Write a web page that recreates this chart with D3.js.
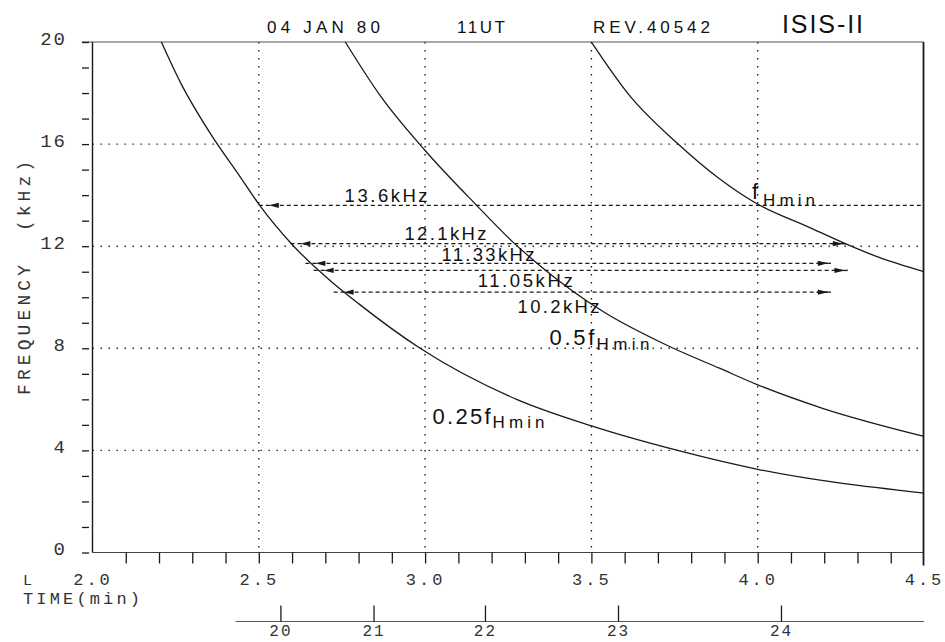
<!DOCTYPE html>
<html><head><meta charset="utf-8">
<script src="https://cdn.jsdelivr.net/npm/d3@7"></script>
<style>
html,body{margin:0;padding:0;background:#fff;}
svg{display:block;}
.mono{font-family:"Liberation Mono","DejaVu Sans Mono",monospace;fill:#333;}
.sans{font-family:"Liberation Sans",Arial,sans-serif;fill:#111;}
</style>
</head><body>
<svg id="chart" width="945" height="642"></svg>
<script>
// Cutoff curves: time (min) and frequency (kHz)
const fHminTime = [3.50, 3.615, 3.755, 3.885, 3.99, 4.155, 4.265, 4.365, 4.5];
const fHminFreq = [20.0, 17.9, 16.07, 14.64, 13.72, 12.74, 12.09, 11.56, 11.0];
const halfTime = [2.76, 2.865, 3.0, 3.155, 3.265, 3.36, 3.535, 3.735, 3.885, 4.0, 4.195, 4.5];
const halfFreq = [20.0, 17.9, 15.75, 13.6, 12.15, 11.08, 9.44, 8.07, 7.22, 6.57, 5.65, 4.55];
const quarterTime = [2.207, 2.265, 2.36, 2.445, 2.5, 2.605, 2.715, 2.80, 2.985, 3.275, 3.50, 3.765, 4.0, 4.5];
const quarterFreq = [20.0, 18.4, 16.3, 14.7, 13.65, 12.0, 10.65, 9.75, 8.0, 6.0, 4.96, 3.98, 3.26, 2.33];

// Constant-frequency emissions: frequency, start and end time
const emissionFreq = [13.6, 12.1, 11.33, 11.05, 10.2];
const emissionStart = [2.5, 2.595, 2.64, 2.665, 2.725];
const emissionEnd = [4.5, 4.265, 4.22, 4.27, 4.22];
const emissionLabels = ["13.6kHz", "12.1kHz", "11.33kHz", "11.05kHz", "10.2kHz"];

// Axis ticks
const freqTicks = [0, 4, 8, 12, 16, 20];
const timeTicks = [2.0, 2.5, 3.0, 3.5, 4.0, 4.5];
const lValues = [20, 21, 22, 23, 24];
const lTimes = [2.565, 2.845, 3.18, 3.58, 4.07];

const headerTexts = ["04 JAN 80", "11UT", "REV.40542", "ISIS-II"];

const svg = d3.select("#chart");
const x = d3.scaleLinear().domain([2.0, 4.5]).range([92.5, 924]);
const y = d3.scaleLinear().domain([0, 20]).range([552.5, 42]);
const ink = "#1a1a1a";

// ---- dotted grid
const dotted = sel => sel.attr("stroke", ink).attr("stroke-width", 1.4)
  .attr("stroke-dasharray", "1.4,6.6").attr("fill", "none");
svg.append("g").selectAll("line")
  .data(freqTicks.filter(d => d > 0 && d < 20)).join("line")
  .attr("x1", x(2.0)).attr("x2", x(4.5))
  .attr("y1", d => y(d)).attr("y2", d => y(d)).call(dotted);
svg.append("g").selectAll("line")
  .data(timeTicks.filter(d => d > 2.0 && d < 4.5)).join("line")
  .attr("x1", d => x(d)).attr("x2", d => x(d))
  .attr("y1", y(20)).attr("y2", y(0)).call(dotted);

// ---- frame
const frame = svg.append("g").attr("stroke", ink).attr("fill", "none");
frame.append("line").attr("x1", 82).attr("x2", x(4.5) - 0.5).attr("y1", y(20)).attr("y2", y(20))
  .attr("stroke", "#555").attr("stroke-width", 1.2);
frame.append("line").attr("x1", x(2.0)).attr("x2", x(2.0)).attr("y1", y(20)).attr("y2", y(0))
  .attr("stroke-width", 1.4);
frame.append("line").attr("x1", x(2.0)).attr("x2", x(4.5)).attr("y1", y(0)).attr("y2", y(0))
  .attr("stroke", "#444").attr("stroke-width", 1.2);
frame.append("line").attr("x1", x(4.5) - 0.5).attr("x2", x(4.5) - 0.5).attr("y1", y(20)).attr("y2", y(0) + 13)
  .attr("stroke-width", 1.8);

// ---- y axis: minor ticks every kHz, labels every 4
const yTicks = svg.append("g").attr("transform", "translate(89,0)")
  .call(d3.axisLeft(y).tickValues(d3.range(0, 21)).tickSize(7).tickFormat(""));
yTicks.select(".domain").remove();
yTicks.selectAll("line").attr("stroke", ink).attr("stroke-width", 1.3);

const yLab = svg.append("g").attr("transform", "translate(89,0)")
  .call(d3.axisLeft(y).tickValues(freqTicks).tickSize(0).tickPadding(22).tickFormat(d3.format("d")));
yLab.select(".domain").remove();
yLab.selectAll("text").attr("class", "mono").attr("font-size", 19)
  .attr("letter-spacing", 2).attr("dy", "0.12em").attr("fill", null);

// ---- x axis: ticks every 0.1 min, labels every 0.5
const xTicks = svg.append("g").attr("transform", `translate(0,${y(0)})`)
  .call(d3.axisBottom(x).tickValues(d3.range(21, 45).map(d => d / 10)).tickSize(11).tickFormat(""));
xTicks.select(".domain").remove();
xTicks.selectAll("line").attr("stroke", ink).attr("stroke-width", 1.3);

const xLab = svg.append("g").attr("transform", `translate(0,${y(0)})`)
  .call(d3.axisBottom(x).tickValues(timeTicks).tickSize(0).tickPadding(31).tickFormat(d3.format(".1f")));
xLab.select(".domain").remove();
xLab.selectAll("text").attr("class", "mono").attr("font-size", 17)
  .attr("letter-spacing", 3).attr("dy", "0.1em").attr("fill", null);

svg.append("text").attr("class", "mono").attr("x", 23).attr("y", 585)
  .attr("font-size", 15).attr("fill", "#777").text("L");
svg.append("text").attr("class", "mono").attr("x", 23).attr("y", 604)
  .attr("font-size", 17).attr("textLength", 117).attr("lengthAdjust", "spacing").text("TIME(min)");

// ---- secondary scale under the time axis
const lScale = d3.scaleLinear().domain(lValues).range(lTimes.map(t => x(t)));
svg.append("line").attr("x1", x(2.43)).attr("x2", x(4.5)).attr("y1", 621.5).attr("y2", 621.5)
  .attr("stroke", "#555").attr("stroke-width", 1.2);
const lAxis = svg.append("g").attr("transform", "translate(0,621.5)")
  .call(d3.axisBottom(lScale).tickValues(lValues).tickSizeInner(-16).tickSizeOuter(0)
    .tickPadding(3).tickFormat(d3.format("d")));
lAxis.select(".domain").remove();
lAxis.selectAll("line").attr("stroke", ink).attr("stroke-width", 1.3);
lAxis.selectAll("text").attr("class", "mono").attr("font-size", 16)
  .attr("letter-spacing", 2).attr("fill", null);

// ---- y axis title
svg.append("text").attr("class", "mono").attr("transform", "translate(30,395) rotate(-90)")
  .attr("font-size", 18).attr("textLength", 130).attr("lengthAdjust", "spacing").text("FREQUENCY");
svg.append("text").attr("class", "mono").attr("transform", "translate(30,231) rotate(-90)")
  .attr("font-size", 18).attr("textLength", 70).attr("lengthAdjust", "spacing").text("(kHz)");

// ---- header
const headerLayout = [
  {x: 267, len: 113, size: 17}, {x: 457, len: 48, size: 17},
  {x: 593, len: 117, size: 17}, {x: 782, len: 81, size: 25}
];
headerTexts.forEach((t, i) => {
  svg.append("text").attr("class", "sans").attr("x", headerLayout[i].x).attr("y", 33)
    .attr("font-size", headerLayout[i].size).attr("textLength", headerLayout[i].len)
    .attr("lengthAdjust", "spacing").text(t);
});

// ---- cutoff curves
const line = d3.line().x(d => x(d[0])).y(d => y(d[1])).curve(d3.curveMonotoneX);
[[fHminTime, fHminFreq], [halfTime, halfFreq], [quarterTime, quarterFreq]].forEach(([t, f]) => {
  svg.append("path").datum(d3.zip(t, f)).attr("d", line)
    .attr("fill", "none").attr("stroke", ink).attr("stroke-width", 1.3);
});

// ---- emission lines with arrowheads
const em = svg.append("g");
emissionFreq.forEach((f, i) => {
  const xs = x(emissionStart[i]), xe = x(emissionEnd[i]), yy = y(f);
  em.append("line").attr("x1", xs).attr("x2", i === 0 ? xe - 1 : xe).attr("y1", yy).attr("y2", yy)
    .attr("stroke", ink).attr("stroke-width", 1.3).attr("stroke-dasharray", "4,3");
  em.append("path").attr("d", `M${xs + 10},${yy}L${xs + 20},${yy - 2.6}L${xs + 20},${yy + 2.6}Z`)
    .attr("fill", ink);
  if (i > 0) {
    em.append("path").attr("d", `M${xe - 3},${yy}L${xe - 13},${yy - 2.6}L${xe - 13},${yy + 2.6}Z`)
      .attr("fill", ink);
    em.append("line").attr("x1", xe - 14).attr("x2", xe).attr("y1", yy).attr("y2", yy)
      .attr("stroke", ink).attr("stroke-width", 1.3);
  }
});

// emission labels, anchored in (time, kHz) with their rendered widths
const emissionLabelLayout = [
  {t: 2.758, f: 13.73, len: 83}, {t: 2.938, f: 12.24, len: 82},
  {t: 3.049, f: 11.43, len: 93}, {t: 3.158, f: 10.40, len: 95},
  {t: 3.278, f: 9.38, len: 82}
];
emissionLabels.forEach((s, i) => {
  const L = emissionLabelLayout[i];
  svg.append("text").attr("class", "sans").attr("x", x(L.t)).attr("y", y(L.f))
    .attr("font-size", 18.5).attr("textLength", L.len).attr("lengthAdjust", "spacing").text(s);
});

// curve labels: main part plus "Hmin" subscript
const curveLabels = [
  {main: "f", t: 3.983, f: 13.85, len: 9, subLen: 52, dy: 7},
  {main: "0.5f", t: 3.374, f: 8.13, len: 45, subLen: 53, dy: 5},
  {main: "0.25f", t: 3.0225, f: 5.03, len: 58, subLen: 52, dy: 4}
];
curveLabels.forEach(c => {
  const px = x(c.t), py = y(c.f);
  svg.append("text").attr("class", "sans").attr("x", px).attr("y", py).attr("font-size", 22)
    .attr("textLength", c.len).attr("lengthAdjust", "spacing").text(c.main);
  svg.append("text").attr("class", "sans").attr("x", px + c.len + 2).attr("y", py + c.dy)
    .attr("font-size", 17).attr("textLength", c.subLen).attr("lengthAdjust", "spacing").text("Hmin");
});
</script>
</body></html>
